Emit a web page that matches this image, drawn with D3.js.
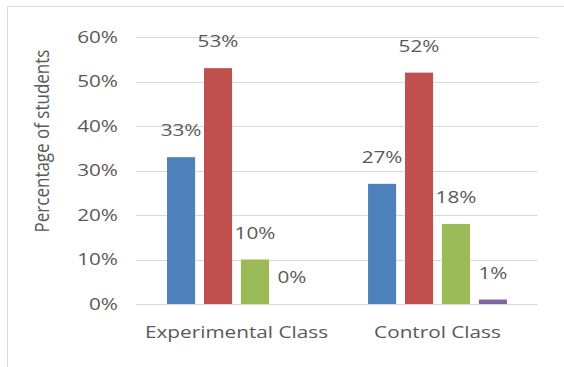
<!DOCTYPE html>
<html><head><meta charset="utf-8">
<script src="https://cdn.jsdelivr.net/npm/d3@7"></script>
<style>
html,body{margin:0;padding:0;background:#fff;}
svg{display:block;}
text{font-family:"Open Sans",sans-serif;fill:#595959;}
</style></head>
<body>
<script>
const categories = ["Experimental Class", "Control Class"];
const seriesNames = ["S1", "S2", "S3", "S4"];
const experimentalValues = [0.33, 0.53, 0.10, 0.00];
const controlValues = [0.27, 0.52, 0.18, 0.01];
const yTicks = [0, 0.1, 0.2, 0.3, 0.4, 0.5, 0.6];
const colors = ["#4F81BD", "#C0504D", "#9BBB59", "#8064A2"];

const values = [experimentalValues, controlValues];
const W = 564, H = 367;
const svg = d3.select("body").append("svg").attr("width", W).attr("height", H);

// frame
svg.append("rect").attr("x", 7.5).attr("y", 6.5).attr("width", W).attr("height", H)
  .attr("fill", "none").attr("stroke", "#d9d9d9").attr("stroke-width", 1);

const plot = {left: 136, right: 538, top: 37, bottom: 304};
const y = d3.scaleLinear().domain([0, 0.6]).range([plot.bottom, plot.top]);
const x0 = d3.scaleBand().domain(categories).range([plot.left, plot.right]).padding(0);
const x1 = d3.scaleBand().domain(seriesNames).range([0, x0.bandwidth()]).paddingInner(0.24).paddingOuter(0.84);
const SX = 1.22;
const fmt = d3.format(".0%");

// gridlines
svg.append("g").selectAll("line").data(yTicks).join("line")
  .attr("x1", plot.left).attr("x2", plot.right)
  .attr("y1", d => Math.round(y(d)) + 0.5).attr("y2", d => Math.round(y(d)) + 0.5)
  .attr("stroke", "#d9d9d9").attr("stroke-width", 1);

// y tick labels
svg.append("g").selectAll("text").data(yTicks).join("text")
  .attr("transform", d => `translate(118,${y(d)}) scale(${SX},1)`)
  .attr("text-anchor", "end").attr("dy", "0.35em")
  .style("font-size", "17px")
  .text(d => fmt(d));

// bars
const groups = svg.append("g").selectAll("g").data(categories).join("g")
  .attr("transform", d => `translate(${x0(d)},0)`);
groups.each(function(cat, ci) {
  const g = d3.select(this);
  const data = seriesNames.map((s, si) => ({s, si, v: values[ci][si]}));
  g.selectAll("rect").data(data).join("rect")
    .attr("x", d => x1(d.s)).attr("width", x1.bandwidth())
    .attr("y", d => y(d.v)).attr("height", d => y(0) - y(d.v))
    .attr("fill", d => colors[d.si]);
  g.selectAll("text").data(data).join("text")
    .attr("transform", d => `translate(${x1(d.s) + x1.bandwidth() / 2},${y(d.v) - 21}) scale(${SX},1)`)
    .attr("text-anchor", "middle")
    .style("font-size", "17px")
    .text(d => fmt(d.v));
});

// category labels
svg.append("g").selectAll("text").data(categories).join("text")
  .attr("transform", d => `translate(${x0(d) + x0.bandwidth() / 2},338) scale(${SX},1)`)
  .attr("text-anchor", "middle")
  .style("font-size", "17px")
  .text(d => d);

// y axis title
svg.append("text")
  .attr("transform", "translate(49,141) rotate(-90) scale(1,1.15)")
  .attr("text-anchor", "middle")
  .style("font-size", "17px")
  .text("Percentage of students");
</script>
</body></html>
